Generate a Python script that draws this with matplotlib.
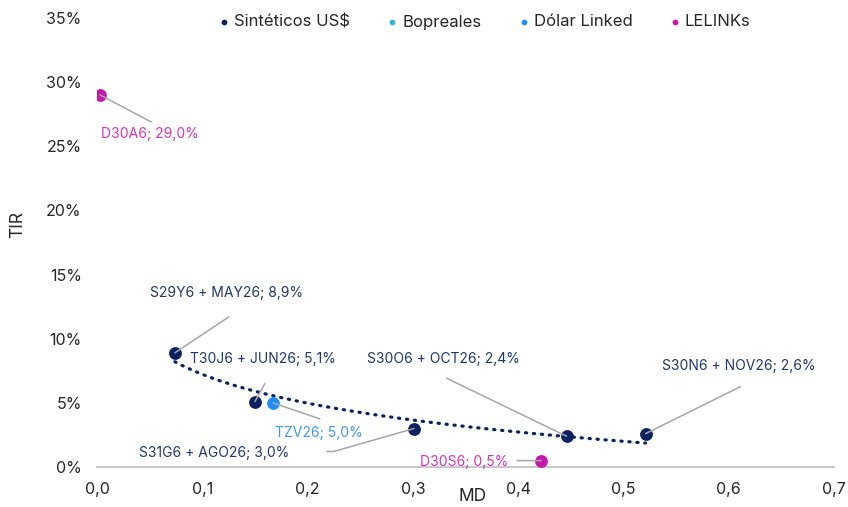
import numpy as np
import matplotlib.pyplot as plt
from matplotlib.ticker import FuncFormatter

plt.rcParams['font.family'] = ['Inter', 'DejaVu Sans']

# data
names = ['S29Y6 + MAY26', 'T30J6 + JUN26', 'S31G6 + AGO26', 'S30O6 + OCT26',
         'S30N6 + NOV26', 'TZV26', 'D30A6', 'D30S6']
series = ['Sintéticos US$', 'Sintéticos US$', 'Sintéticos US$', 'Sintéticos US$',
          'Sintéticos US$', 'Dólar Linked', 'LELINKs', 'LELINKs']
md = [0.074, 0.150, 0.301, 0.446, 0.521, 0.167, 0.003, 0.422]
tir = [8.9, 5.1, 3.0, 2.4, 2.6, 5.0, 29.0, 0.5]

series_order = ['Sintéticos US$', 'Bopreales', 'Dólar Linked', 'LELINKs']
colors = {'Sintéticos US$': '#0c2161', 'Bopreales': '#2ab6d6',
          'Dólar Linked': '#1f8ff5', 'LELINKs': '#c617aa'}
label_colors = {'Sintéticos US$': '#1d3770', 'Dólar Linked': '#3b9af5',
                'LELINKs': '#d633bb'}

# label layout (pixel offsets from each point): text pos, leader end
text_off = [(-25, 60), (-65, 43), (-275, -24), (-200, 77),
            (16, 68), (2, -30), (1, -39), (-33, -1)]
line_off = [(54, 36), (10, 18), (-87, -23), (-120, 58),
            (95, 47), (47, -16), (51, -27), (-24, 0)]

fig = plt.figure(figsize=(8.48, 5.07), dpi=100)
ax = fig.add_axes([97/848, 1-467/507, 737/848, 449/507])

for s in series_order:
    xs = [md[i] for i in range(len(md)) if series[i] == s]
    ys = [tir[i] for i in range(len(tir)) if series[i] == s]
    ax.scatter(xs, ys, s=85, color=colors[s], label=s, zorder=3, linewidths=0)

# logarithmic trendline for the synthetic series
sx = np.array([md[i] for i in range(len(md)) if series[i] == 'Sintéticos US$'])
sy = np.array([tir[i] for i in range(len(tir)) if series[i] == 'Sintéticos US$'])
b, a = np.polyfit(np.log(sx), sy, 1)
xt = np.linspace(sx.min(), sx.max(), 200)
ax.plot(xt, a + b*np.log(xt), color='#0c2161', lw=2.3,
        linestyle=(0, (0.4, 2.1)), dash_capstyle='round', zorder=2)

for i in range(len(names)):
    lbl = f'{names[i]}; {tir[i]:.1f}%'.replace('.', ',')
    tx, ty = text_off[i]
    ax.annotate(lbl, xy=(md[i], tir[i]), xytext=(tx, ty), textcoords='offset pixels',
                ha='right' if tx < -30 and ty == -1 else 'left', va='center',
                fontsize=10, color=label_colors[series[i]])
    cs = 'arc3'
    if names[i] == 'S31G6 + AGO26':
        cs = 'angle,angleA=0,angleB=16,rad=0'
    ax.annotate('', xy=(md[i], tir[i]), xytext=line_off[i], textcoords='offset pixels',
                arrowprops=dict(arrowstyle='-', color='#a6a6a6', lw=1.1,
                                shrinkA=0, shrinkB=0, connectionstyle=cs))

ax.set_xlim(0, 0.7)
ax.set_ylim(0, 35)
ax.set_xticks(np.arange(0, 0.71, 0.1))
ax.set_yticks(np.arange(0, 36, 5))
ax.xaxis.set_major_formatter(FuncFormatter(lambda v, p: f'{v:.1f}'.replace('.', ',')))
ax.yaxis.set_major_formatter(FuncFormatter(lambda v, p: f'{v:.0f}%'))
ax.tick_params(length=0, labelsize=11.5, colors='#262626', pad=11)

for sp in ['top', 'right', 'left']:
    ax.spines[sp].set_visible(False)
ax.spines['bottom'].set_color('#bfbfbf')
ax.spines['bottom'].set_linewidth(1.2)

ax.set_ylabel('TIR', fontsize=12.5, color='#262626')
ax.set_xlabel('MD', fontsize=12.5, color='#262626')
ax.yaxis.set_label_coords(-0.096, 0.54)
ax.xaxis.set_label_coords(0.51, -0.047)

fig.legend(loc='center', bbox_to_anchor=(483/848, 1-22/507), ncol=4, frameon=False,
           fontsize=12, markerscale=0.45, handletextpad=0.1, columnspacing=2.05,
           handlelength=1.0, labelcolor='#262626')

fig.savefig('out.png', dpi=100)
